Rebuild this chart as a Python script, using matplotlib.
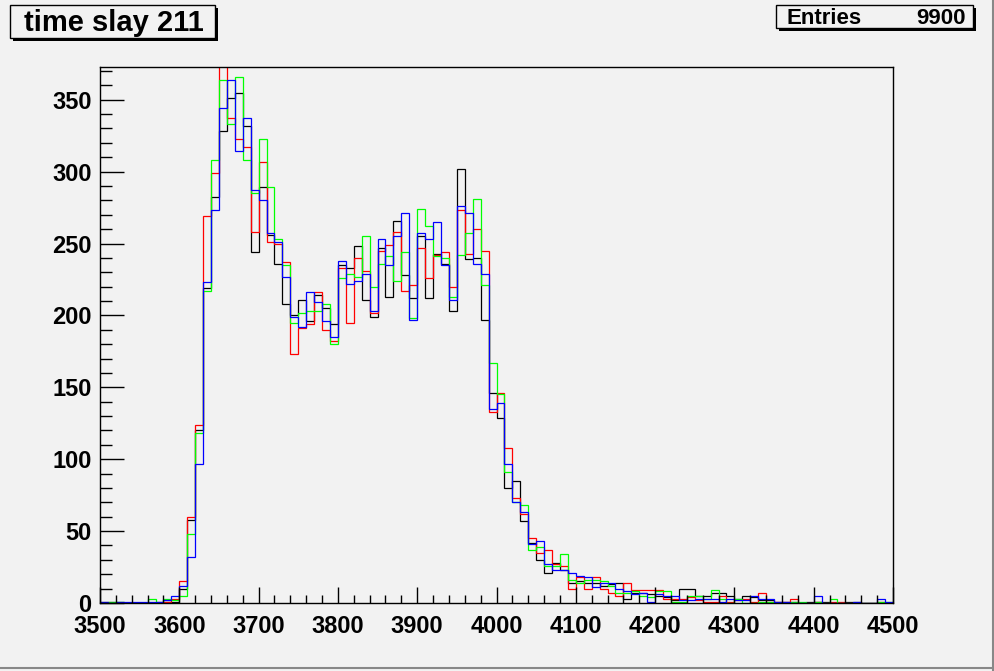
import numpy as np
import matplotlib.pyplot as plt
from matplotlib.patches import Rectangle
from matplotlib.ticker import MultipleLocator

plt.rcParams['font.family'] = ['Liberation Sans', 'DejaVu Sans']
plt.rcParams['font.weight'] = 'bold'

# 100 bins of width 10 from 3500 to 4500
edges = np.arange(3500, 4501, 10)

black = [1, 1, 1, 0, 0, 0, 0, 1, 1, 1,
         10, 58, 120, 219, 282, 328, 351, 355, 332, 244,
         289, 256, 236, 208, 200, 211, 196, 214, 205, 194,
         235, 233, 248, 211, 199, 247, 213, 266, 228, 212,
         255, 212, 243, 236, 203, 302, 239, 240, 197, 146,
         129, 80, 85, 57, 42, 30, 21, 28, 23, 14,
         15, 14, 14, 12, 13, 14, 3, 7, 7, 6,
         5, 4, 2, 10, 10, 5, 5, 7, 7, 5,
         3, 5, 4, 2, 2, 1, 1, 1, 0, 1,
         1, 1, 0, 0, 1, 1, 0, 0, 0, 0]

red = [0, 0, 0, 0, 0, 0, 0, 0, 1, 3,
       15, 60, 124, 269, 299, 380, 337, 323, 317, 258,
       307, 251, 250, 237, 173, 191, 194, 216, 190, 182,
       233, 195, 240, 231, 202, 245, 249, 258, 217, 221,
       247, 226, 242, 244, 220, 273, 243, 260, 245, 133,
       146, 108, 73, 62, 45, 35, 37, 27, 26, 10,
       18, 10, 18, 10, 7, 5, 14, 9, 9, 9,
       9, 3, 3, 3, 4, 2, 1, 1, 5, 1,
       2, 3, 1, 7, 1, 1, 1, 3, 0, 0,
       1, 0, 1, 1, 0, 0, 0, 0, 1, 0]

green = [0, 1, 1, 0, 0, 0, 3, 0, 3, 2,
         5, 48, 118, 217, 308, 364, 333, 366, 308, 285,
         323, 289, 253, 235, 195, 202, 203, 203, 208, 180,
         226, 229, 227, 255, 220, 236, 241, 224, 244, 198,
         274, 262, 241, 240, 213, 242, 257, 281, 221, 167,
         145, 91, 70, 68, 37, 39, 26, 26, 34, 16,
         14, 16, 16, 15, 12, 7, 7, 8, 5, 4,
         8, 8, 1, 1, 5, 5, 3, 9, 3, 0,
         3, 0, 0, 1, 1, 0, 0, 1, 1, 0,
         1, 0, 3, 0, 0, 0, 0, 0, 1, 1]

blue = [1, 0, 1, 1, 1, 1, 1, 1, 2, 5,
        12, 32, 97, 223, 273, 344, 364, 314, 337, 287,
        280, 257, 251, 227, 199, 192, 216, 209, 196, 185,
        238, 222, 224, 229, 203, 253, 235, 255, 271, 197,
        257, 253, 265, 235, 211, 276, 271, 236, 229, 135,
        139, 97, 70, 63, 41, 43, 27, 23, 23, 21,
        19, 18, 11, 14, 14, 10, 8, 6, 7, 1,
        6, 5, 5, 2, 2, 3, 3, 3, 1, 3,
        2, 2, 5, 3, 3, 1, 1, 0, 0, 0,
        5, 0, 0, 0, 0, 1, 0, 0, 3, 1]

bg = '#f2f2f2'
W, H = 995, 671

fig = plt.figure(figsize=(W / 100, H / 100), dpi=100)
fig.patch.set_facecolor(bg)

ax = fig.add_axes([100 / W, (H - 603) / H, 793 / W, 536 / H])
ax.set_facecolor(bg)

for vals, col in [(black, 'black'), (red, '#ff0000'), (green, '#00ff00'), (blue, '#0000ff')]:
    ax.stairs(vals, edges, color=col, linewidth=0.9, baseline=None)

ax.set_xlim(3500, 4500)
ax.set_ylim(0, max(black) * 1.05)

ax.xaxis.set_major_locator(MultipleLocator(100))
ax.xaxis.set_minor_locator(MultipleLocator(20))
ax.yaxis.set_major_locator(MultipleLocator(50))
ax.yaxis.set_minor_locator(MultipleLocator(10))
ax.tick_params(axis='x', which='major', direction='in', length=11.5, width=1, pad=8.5, labelsize=17)
ax.tick_params(axis='x', which='minor', direction='in', length=5.8, width=1)
ax.tick_params(axis='y', which='major', direction='in', length=17, width=1, pad=6, labelsize=17)
ax.tick_params(axis='y', which='minor', direction='in', length=8.6, width=1)
for lab in ax.get_xticklabels() + ax.get_yticklabels():
    lab.set_fontweight('bold')
for sp in ax.spines.values():
    sp.set_linewidth(1)


def box(x0, y0, x1, y1, shadow=3):
    # pixel coords, y measured from top
    fig.patches.append(Rectangle((x0 + shadow, H - y1 - shadow), x1 - x0, y1 - y0,
                                 transform=None, facecolor='black', edgecolor='black', lw=0))
    fig.patches.append(Rectangle((x0, H - y1), x1 - x0, y1 - y0, transform=None,
                                 facecolor=bg, edgecolor='black', lw=1))


box(10, 5, 215, 38)
fig.text(24 / W, 1 - 23 / H, 'time slay 211', fontsize=21, fontweight='bold', va='center', ha='left')

box(776, 5, 973, 28)
fig.text(787 / W, 1 - 18 / H, 'Entries', fontsize=16, fontweight='bold', va='center', ha='left')
fig.text(966 / W, 1 - 18 / H, '9900', fontsize=16, fontweight='bold', va='center', ha='right')

# canvas bevel
fig.lines.append(plt.Line2D([993 / W, 993 / W], [0, 1], transform=fig.transFigure, color='#888888', lw=1.5))
fig.lines.append(plt.Line2D([0, 1], [3 / H, 3 / H], transform=fig.transFigure, color='#888888', lw=1.5))

fig.savefig('out.png', dpi=100, facecolor=bg)
